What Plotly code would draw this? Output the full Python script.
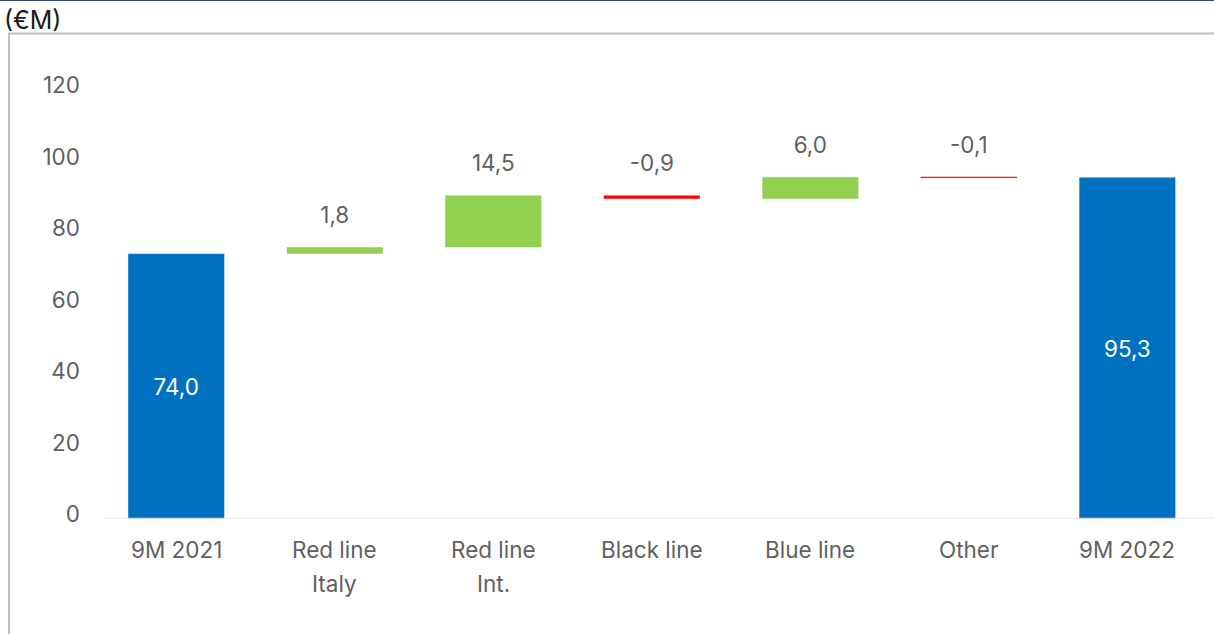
import plotly.graph_objects as go

# ---- data ----
categories = ["9M 2021", "Red line Italy", "Red line Int.", "Black line", "Blue line", "Other", "9M 2022"]
label_lines = [["9M 2021"], ["Red line", "Italy"], ["Red line", "Int."], ["Black line"], ["Blue line"], ["Other"], ["9M 2022"]]
values = [74.0, 1.8, 14.5, -0.9, 6.0, -0.1, 95.3]
measures = ["total", "relative", "relative", "relative", "relative", "relative", "total"]
y_ticks = [0, 20, 40, 60, 80, 100, 120]
unit_label = "(€M)"

BLUE = "#0070C0"
GREEN = "#92D050"
RED = "#FF0000"
GRAY = "#5F5F5F"
FONT = "Inter, Open Sans, Liberation Sans, Arial, sans-serif"
FS = 22.5

W, H = 1214, 634

def fmt(v):
    return f"{v:.1f}".replace(".", ",")

bases, heights, colors, texts = [], [], [], []
running = 0.0
for v, m in zip(values, measures):
    if m == "total":
        bases.append(0.0)
        heights.append(v)
        colors.append(BLUE)
        texts.append(fmt(v))
        running = v
    else:
        bases.append(running)
        heights.append(v)
        colors.append(GREEN if v >= 0 else RED)
        texts.append("")
        running += v

line_w = [0.8 if (m == "relative" and abs(v) < 0.5) else 0 for v, m in zip(values, measures)]

fig = go.Figure()
fig.add_trace(go.Bar(
    x=categories, y=heights, base=bases,
    marker=dict(color=colors, line=dict(color=colors, width=line_w)),
    text=texts, textposition="inside", insidetextanchor="middle",
    textfont=dict(family=FONT, size=FS, color="white"),
    constraintext="none",
    hoverinfo="skip",
))

# delta labels
lx, ly, lt = [], [], []
for c, b, h, m in zip(categories, bases, heights, measures):
    if m == "relative":
        lx.append(c)
        ly.append(max(b, b + h) + 5.3)
        lt.append(fmt(h))
fig.add_trace(go.Scatter(
    x=lx, y=ly, text=lt, mode="text", textposition="top center",
    textfont=dict(family=FONT, size=FS, color=GRAY), hoverinfo="skip",
))

# geometry (pixels -> paper)
plot_left, plot_right = 97.0, 1206.6
y0_px, top_px = 518.5, 53.4
ymax = 130

annotations = []
for c, lines in zip(categories, label_lines):
    for i, ln in enumerate(lines):
        annotations.append(dict(
            x=c, xref="x", y=1 - (549 + 34 * i) / H, yref="paper",
            text=ln, showarrow=False, xanchor="center", yanchor="middle",
            font=dict(family=FONT, size=FS, color=GRAY),
        ))
annotations.append(dict(
    x=2 / W, xref="paper", y=1 - 20 / H, yref="paper", text=unit_label,
    showarrow=False, xanchor="left", yanchor="middle",
    font=dict(family=FONT, size=25, color="#1a1a1a"),
))

shapes = [
    dict(type="line", xref="paper", yref="paper", x0=0, x1=1, y0=1, y1=1,
         line=dict(color="#2E4A7C", width=2)),
    dict(type="rect", xref="paper", yref="paper", x0=9 / W, x1=1.2, y0=-0.2, y1=1 - 33.5 / H,
         line=dict(color="#BFBFBF", width=2), fillcolor="rgba(0,0,0,0)"),
    dict(type="line", xref="paper", yref="y", x0=104 / W, x1=1.0, y0=0, y1=0,
         line=dict(color="#D9D9D9", width=1.5)),
]

fig.update_layout(
    template="none",
    width=W, height=H, autosize=False,
    margin=dict(l=0, r=0, t=0, b=0, pad=0, autoexpand=False),
    paper_bgcolor="white", plot_bgcolor="white",
    showlegend=False, hovermode=False,
    bargap=0.394,
    xaxis=dict(domain=[plot_left / W, plot_right / W], range=[-0.5, 6.5], automargin=False,
               showticklabels=False, showgrid=False, zeroline=False, showline=False, ticks=""),
    yaxis=dict(domain=[1 - y0_px / H, 1 - top_px / H], range=[0, ymax], automargin=False,
               tickvals=y_ticks, ticktext=[str(t) for t in y_ticks],
               showgrid=False, zeroline=False, showline=False, ticks="",
               ticklabelstandoff=16, ticklabelshift=-4,
               tickfont=dict(family=FONT, size=FS, color=GRAY)),
    annotations=annotations,
    shapes=shapes,
    font=dict(family=FONT),
)

fig.write_html("out.html")
